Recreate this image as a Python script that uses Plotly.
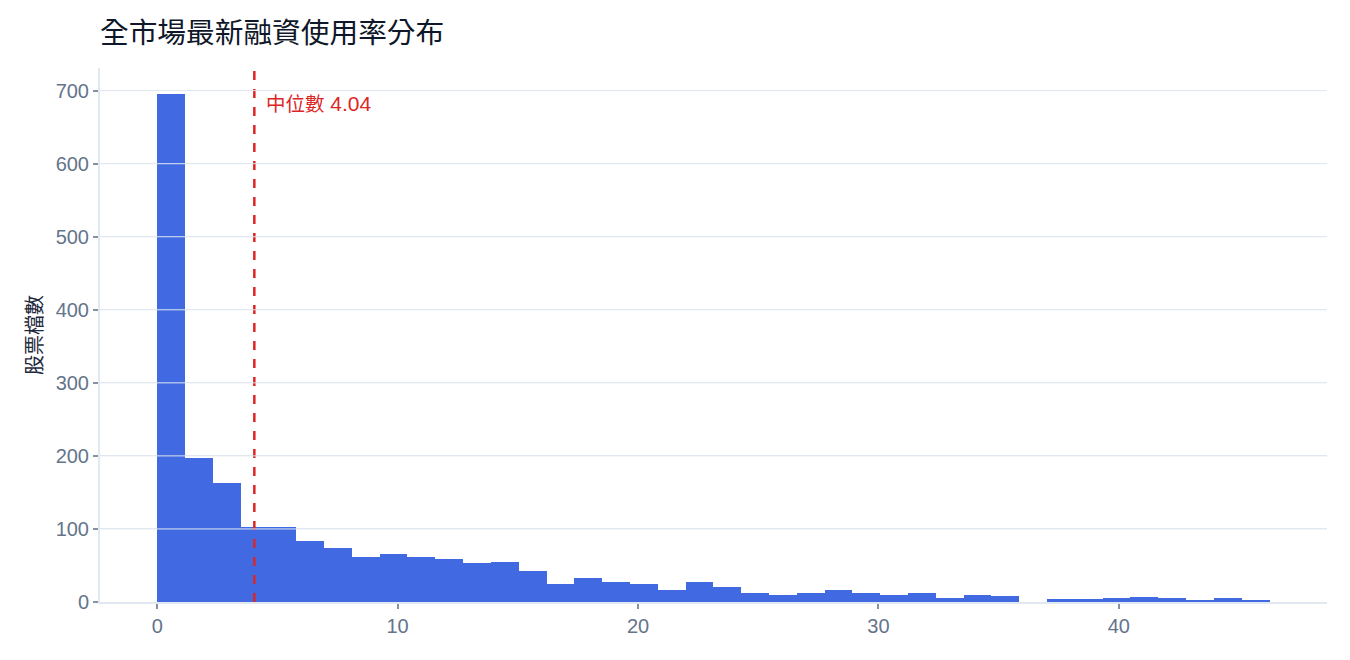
import plotly.graph_objects as go

# 融資使用率 histogram (40 bins from 0 to max)
bin_start = 0.0
bin_width = 1.1567
counts = [696, 197, 163, 103, 103, 84, 74, 62, 66, 62,
          59, 53, 55, 42, 25, 33, 27, 24, 17, 27,
          20, 13, 9, 13, 17, 12, 9, 12, 5, 9,
          8, 0, 4, 4, 6, 7, 5, 2, 6, 2]
median_val = 4.04
y_ticks = [0, 100, 200, 300, 400, 500, 600, 700]
x_ticks = [0, 10, 20, 30, 40]

centers = [bin_start + bin_width * (i + 0.5) for i in range(len(counts))]

fig = go.Figure()
fig.add_trace(go.Bar(x=centers, y=counts, width=bin_width,
                     marker=dict(color="#4169e1", line=dict(width=0)),
                     showlegend=False))

# median line
fig.add_vline(x=median_val, line=dict(color="#dc2626", width=2.5, dash="dash"))
fig.add_annotation(x=median_val, y=1, xref="x", yref="paper",
                   text=f"<span style='font-size:19.5px'>中位數</span> {median_val:.2f}",
                   showarrow=False, xanchor="left", yanchor="top", xshift=10, yshift=-22,
                   font=dict(color="#dc2626", size=21))

# grid drawn over the bars like the original
for t in y_ticks[1:]:
    fig.add_shape(type="line", xref="paper", x0=0, x1=1, yref="y", y0=t, y1=t,
                  line=dict(color="#e2e8f0", width=1), layer="above")

fig.update_layout(
    width=1350, height=660,
    margin=dict(l=92, r=31, t=60, b=66),
    plot_bgcolor="white", paper_bgcolor="white",
    font=dict(family="'Liberation Sans', Arial, 'Noto Sans CJK TC', sans-serif", color="#64748b", size=20),
    title=dict(text="全市場最新融資使用率分布", x=0, xref="paper", xanchor="left",
               y=1 - 25 / 660, yref="container", yanchor="middle",
               font=dict(family="'Noto Sans CJK TC', sans-serif", size=28.7, color="#0f172a")),
    bargap=0,
)
fig.update_xaxes(range=[-2.38, 48.66], tickvals=x_ticks, showgrid=False, zeroline=False,
                 showline=True, linecolor="#e2e8f0", linewidth=2,
                 ticks="outside", ticklen=5, tickcolor="#8592a3", tickwidth=1.5)
fig.update_yaxes(range=[0, 731], tickvals=y_ticks, showgrid=True, gridcolor="#e2e8f0",
                 zeroline=False, showline=True, linecolor="#e2e8f0", linewidth=2,
                 ticks="outside", ticklen=5, tickcolor="#8592a3", tickwidth=1.5,
                 title=dict(text="股票檔數", standoff=8,
                            font=dict(family="'Noto Sans CJK TC', sans-serif", size=20, color="#1e293b")))

fig.write_html("out.html")
